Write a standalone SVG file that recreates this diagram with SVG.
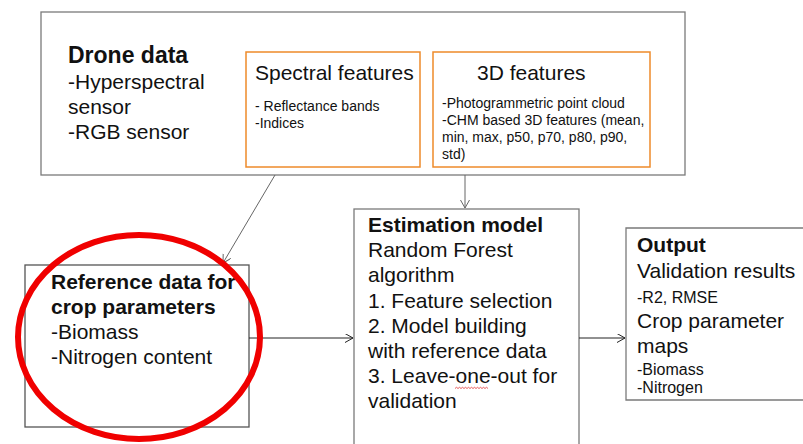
<svg xmlns="http://www.w3.org/2000/svg" width="803" height="444" viewBox="0 0 803 444">
<defs>
<style>
text{font-family:"Liberation Sans",Arial,sans-serif;fill:#111;}
.b{font-weight:bold;}
.t21{font-size:21px;}
.t23{font-size:23px;}
.s14{font-size:14px;}
.s16{font-size:16px;}
.box{fill:#fff;stroke:#7a7a7a;stroke-width:1.3;}
.fbox{fill:#fff;stroke:#ee8a2a;stroke-width:1.5;}
.line{fill:none;stroke:#666;stroke-width:1;}
.lineb{fill:none;stroke:#222;stroke-width:1;}
</style>
<marker id="ah" markerWidth="10" markerHeight="10" refX="8" refY="4.5" orient="auto" markerUnits="userSpaceOnUse">
<path d="M0,0 L8,4.5 L0,9" fill="none" stroke="#666" stroke-width="1"/>
</marker>
<marker id="ahb" markerWidth="10" markerHeight="10" refX="8" refY="4.5" orient="auto" markerUnits="userSpaceOnUse">
<path d="M0,0 L8,4.5 L0,9" fill="none" stroke="#222" stroke-width="1"/>
</marker>
</defs>
<rect width="803" height="444" fill="#fff"/>

<g id="drone">
<rect class="box" x="41" y="12" width="644" height="163"/>
<text class="b t23" x="68" y="63">Drone data</text>
<text class="t21" x="68" y="89">-Hyperspectral</text>
<text class="t21" x="68" y="114">sensor</text>
<text class="t21" x="68" y="139">-RGB sensor</text>
</g>

<g id="spectral">
<rect class="fbox" x="246" y="52" width="174" height="115"/>
<text class="t21" x="255" y="80">Spectral features</text>
<text class="s14" x="255" y="111">- Reflectance bands</text>
<text class="s14" x="255" y="128">-Indices</text>
</g>

<g id="features3d">
<rect class="fbox" x="433" y="52" width="217" height="115"/>
<text class="t21" x="477" y="80">3D features</text>
<text class="s14" x="442" y="108">-Photogrammetric point cloud</text>
<text class="s14" x="442" y="125">-CHM based 3D features (mean,</text>
<text class="s14" x="442" y="142">min, max, p50, p70, p80, p90,</text>
<text class="s14" x="442" y="159">std)</text>
</g>

<g id="reference">
<rect x="25" y="265" width="224" height="162" fill="#fff" stroke="#555" stroke-width="1.3"/>
<text class="b t21" x="51" y="289">Reference data for</text>
<text class="b t21" x="51" y="314">crop parameters</text>
<text class="t21" x="51" y="339">-Biomass</text>
<text class="t21" x="51" y="364">-Nitrogen content</text>
</g>

<g id="estimation">
<rect class="box" x="354" y="209" width="225" height="250"/>
<text class="b t21" x="368" y="232">Estimation model</text>
<text class="t21" x="368" y="257">Random Forest</text>
<text class="t21" x="368" y="282">algorithm</text>
<text class="t21" x="368" y="308">1. Feature selection</text>
<text class="t21" x="368" y="333">2. Model building</text>
<text class="t21" x="368" y="358">with reference data</text>
<text class="t21" x="368" y="383">3. Leave-one-out for</text>
<text class="t21" x="368" y="408">validation</text>
<path d="M455,388.5 l1.5,-1.2 l1.5,1.2 l1.5,-1.2 l1.5,1.2 l1.5,-1.2 l1.5,1.2 l1.5,-1.2 l1.5,1.2 l1.5,-1.2 l1.5,1.2 l1.5,-1.2 l1.5,1.2 l1.5,-1.2 l1.5,1.2 l1.5,-1.2 l1.5,1.2 l1.5,-1.2 l1.5,1.2 l1.5,-1.2 l1.5,1.2 l1.5,-1.2 l1.5,1.2" fill="none" stroke="#e03030" stroke-width="0.8"/>
</g>

<g id="output">
<path d="M803,228 H626 V400 H803" fill="#fff" stroke="#7a7a7a" stroke-width="1.3"/>
<text class="b t21" x="637" y="252">Output</text>
<text class="t21" x="637" y="278">Validation results</text>
<text class="s16" x="637" y="303">-R2, RMSE</text>
<text class="t21" x="637" y="328">Crop parameter</text>
<text class="t21" x="637" y="353">maps</text>
<text class="s16" x="637" y="375">-Biomass</text>
<text class="s16" x="637" y="393">-Nitrogen</text>
</g>

<g id="connectors">
<line class="line" x1="275" y1="175" x2="223" y2="263" marker-end="url(#ah)"/>
<line class="line" x1="465" y1="175" x2="465" y2="208" marker-end="url(#ah)"/>
<line class="lineb" x1="249" y1="338" x2="353" y2="338" marker-end="url(#ahb)"/>
<line class="lineb" x1="579" y1="338" x2="625" y2="338" marker-end="url(#ahb)"/>
</g>

<g id="highlight">
<ellipse cx="139" cy="337" rx="121" ry="102" fill="none" stroke="#f00000" stroke-width="6"/>
</g>
</svg>
